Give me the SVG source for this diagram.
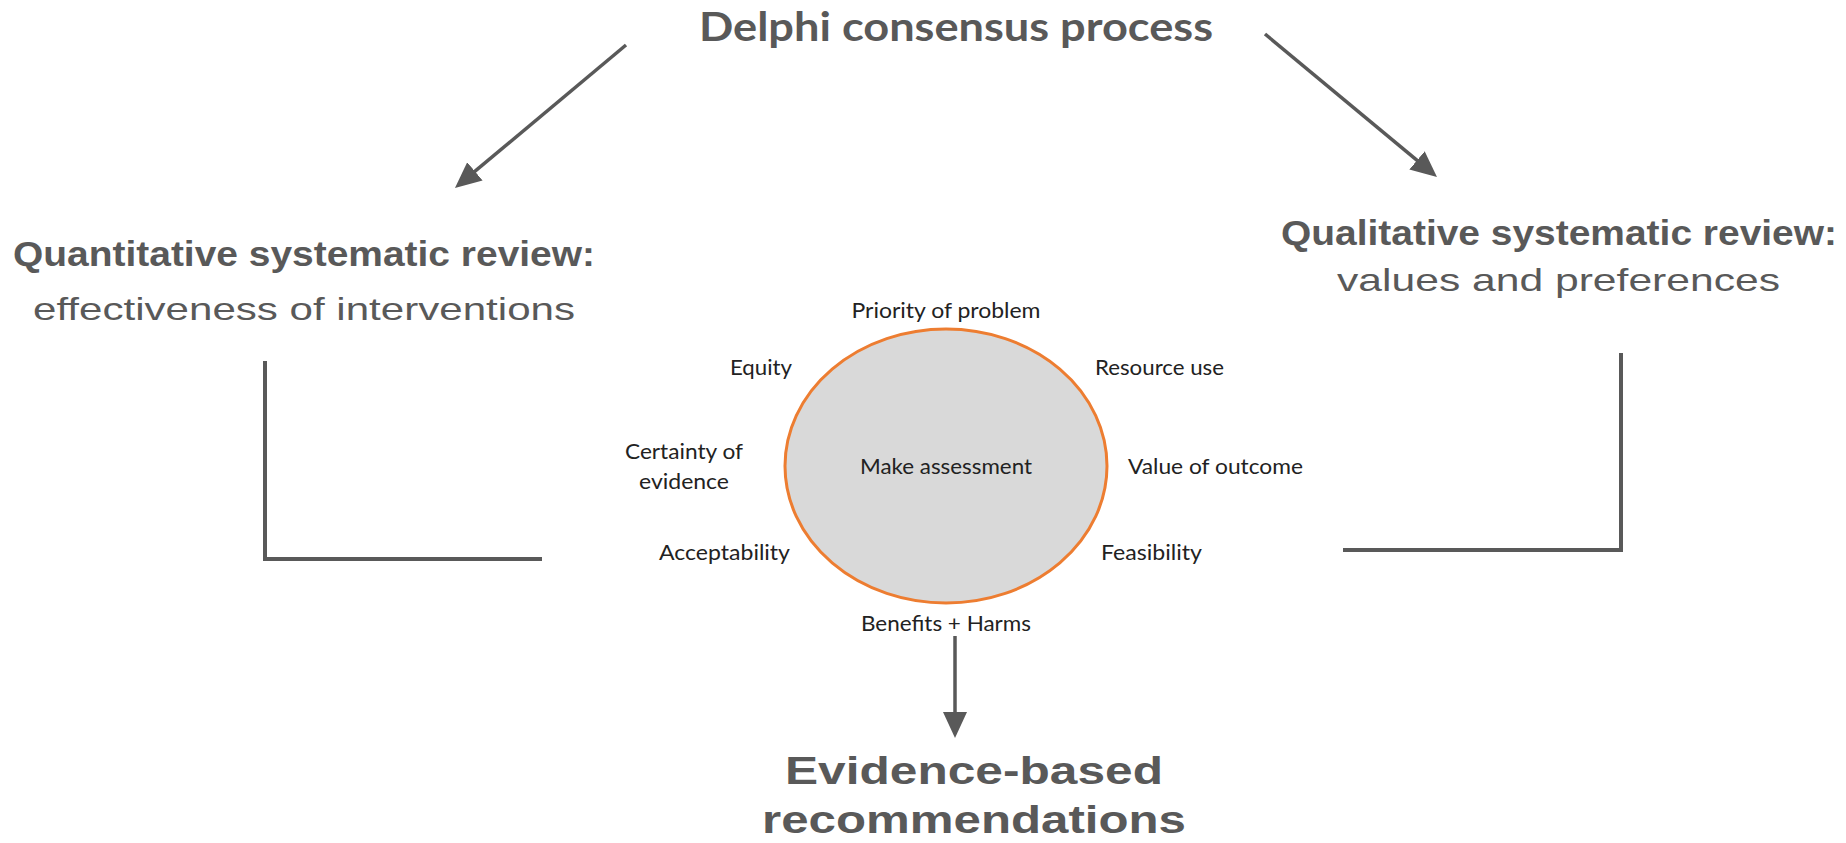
<svg xmlns="http://www.w3.org/2000/svg" width="1846" height="843" viewBox="0 0 1846 843">
  <defs>
    <style>
      .title { font-family: Lato, "Liberation Sans", sans-serif; font-weight: bold; fill: #595959; }
      .head { font-family: "Liberation Sans", Arial, sans-serif; font-weight: bold; fill: #595959; }
      .sub { font-family: "Liberation Sans", Arial, sans-serif; font-weight: normal; fill: #595959; }
      .lbl { font-family: Lato, "Liberation Sans", sans-serif; font-size: 22px; fill: #222222; }
      .conn { stroke: #595959; stroke-width: 3.5; fill: none; }
      .bracket { stroke: #595959; stroke-width: 4; fill: none; }
    </style>
    <marker id="arrow" markerUnits="userSpaceOnUse" markerWidth="28" markerHeight="26" refX="6" refY="12" orient="auto">
      <path d="M0,0 L26,12 L0,24 z" fill="#595959"/>
    </marker>
  </defs>
  <rect width="1846" height="843" fill="#ffffff"/>

  <g id="node-delphi">
    <text class="title" x="956" y="41" font-size="40" text-anchor="middle" textLength="514" lengthAdjust="spacingAndGlyphs">Delphi consensus process</text>
  </g>

  <g id="node-quantitative">
    <text class="head" x="13" y="266" font-size="35" textLength="582" lengthAdjust="spacingAndGlyphs">Quantitative systematic review:</text>
    <text class="sub" x="33" y="320" font-size="32" textLength="542" lengthAdjust="spacingAndGlyphs">effectiveness of interventions</text>
  </g>

  <g id="node-qualitative">
    <text class="head" x="1281" y="245" font-size="35" textLength="556" lengthAdjust="spacingAndGlyphs">Qualitative systematic review:</text>
    <text class="sub" x="1337" y="291" font-size="32" textLength="443" lengthAdjust="spacingAndGlyphs">values and preferences</text>
  </g>

  <g id="node-assessment">
    <ellipse cx="946" cy="466" rx="161" ry="137" fill="#d9d9d9" stroke="#ed7d31" stroke-width="3"/>
    <text class="lbl" x="946" y="474" text-anchor="middle" textLength="172" lengthAdjust="spacingAndGlyphs">Make assessment</text>
  </g>

  <g id="node-labels">
    <text class="lbl" x="946" y="318" text-anchor="middle" textLength="189" lengthAdjust="spacingAndGlyphs">Priority of problem</text>
    <text class="lbl" x="792" y="375" text-anchor="end" textLength="62" lengthAdjust="spacingAndGlyphs">Equity</text>
    <text class="lbl" x="1095" y="375" textLength="129" lengthAdjust="spacingAndGlyphs">Resource use</text>
    <text class="lbl" x="684" y="459" text-anchor="middle" textLength="118" lengthAdjust="spacingAndGlyphs">Certainty of</text>
    <text class="lbl" x="684" y="489" text-anchor="middle" textLength="90" lengthAdjust="spacingAndGlyphs">evidence</text>
    <text class="lbl" x="1128" y="474" textLength="175" lengthAdjust="spacingAndGlyphs">Value of outcome</text>
    <text class="lbl" x="790" y="560" text-anchor="end" textLength="131" lengthAdjust="spacingAndGlyphs">Acceptability</text>
    <text class="lbl" x="1101" y="560" textLength="101" lengthAdjust="spacingAndGlyphs">Feasibility</text>
    <text class="lbl" x="946" y="631" text-anchor="middle" textLength="170" lengthAdjust="spacingAndGlyphs">Benefits + Harms</text>
  </g>

  <g id="node-recommendations">
    <text class="head" x="974" y="784" font-size="39" text-anchor="middle" textLength="378" lengthAdjust="spacingAndGlyphs">Evidence-based</text>
    <text class="head" x="974" y="833" font-size="39" text-anchor="middle" textLength="424" lengthAdjust="spacingAndGlyphs">recommendations</text>
  </g>

  <g id="connectors">
    <line class="conn" x1="626" y1="45" x2="470.3" y2="175.2" marker-end="url(#arrow)"/>
    <line class="conn" x1="1265" y1="34" x2="1421.6" y2="164.2" marker-end="url(#arrow)"/>
    <line class="conn" x1="955" y1="636" x2="955" y2="718" marker-end="url(#arrow)"/>
    <polyline class="bracket" points="265,361 265,559 542,559"/>
    <polyline class="bracket" points="1621,353 1621,550 1343,550"/>
  </g>
</svg>
